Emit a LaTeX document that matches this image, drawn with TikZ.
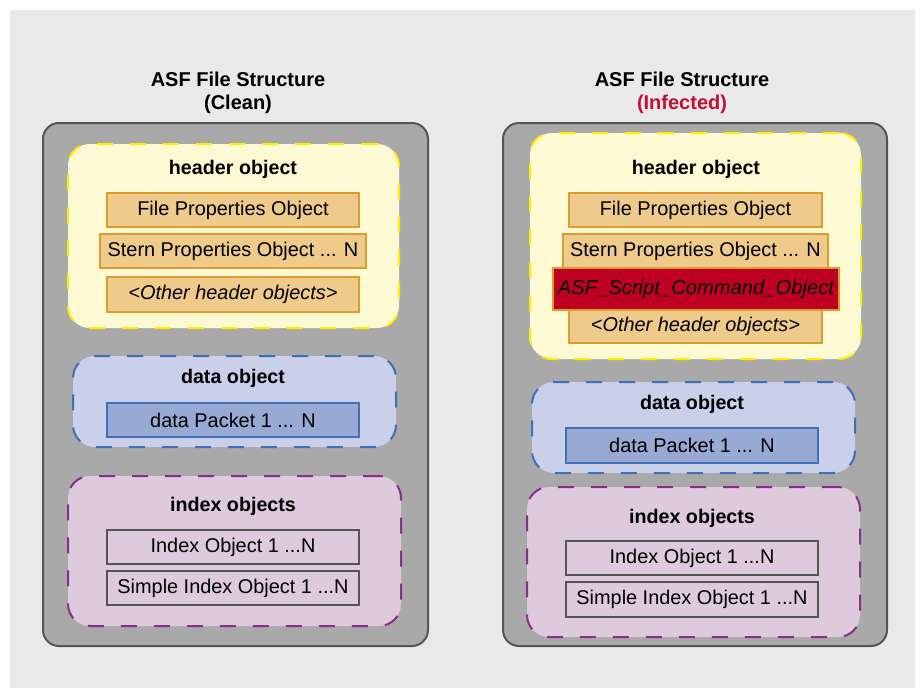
\documentclass[tikz,border=0pt]{standalone}
\usepackage{fontspec}
\setmainfont{Liberation Sans}
\begin{document}
\begin{tikzpicture}[x=1pt,y=-1pt,
  every node/.style={inner sep=0pt, outer sep=0pt, font=\fontsize{19.9}{23}\selectfont},
  outerbox/.style={draw=outerstroke, fill=outerfill, line width=2pt, rounded corners=16pt},
  grp/.style={line width=2pt, rounded corners=22pt, dash pattern=on 16pt off 17pt},
  hdrgrp/.style={grp, draw=hdrstroke, fill=hdrfill},
  datgrp/.style={grp, draw=datstroke, fill=datfill},
  idxgrp/.style={grp, draw=idxstroke, fill=idxfill},
  lbl/.style={font=\fontsize{19.7}{23}\selectfont\bfseries},
  ttl/.style={font=\fontsize{20}{24}\selectfont\bfseries},
  hbox/.style={draw=orstroke, fill=orfill, line width=2pt, minimum height=34pt},
  dbox/.style={draw=datstroke, fill=pktfill, line width=2pt, minimum width=252pt, minimum height=34pt},
  ibox/.style={draw=ixstroke, fill=idxfill, line width=2pt, minimum width=252pt, minimum height=34pt},
  rbox/.style={draw=orstroke, fill=redfill, line width=2pt, font=\fontsize{20.2}{23}\selectfont\itshape}
]
\definecolor{bgfill}{HTML}{E9E9E9}
\definecolor{outerfill}{HTML}{A9A9A9}
\definecolor{outerstroke}{HTML}{555555}
\definecolor{hdrfill}{HTML}{FDF9D2}
\definecolor{hdrstroke}{HTML}{FFEE00}
\definecolor{orfill}{HTML}{EECB8B}
\definecolor{orstroke}{HTML}{DE9B2E}
\definecolor{datfill}{HTML}{CAD0E9}
\definecolor{datstroke}{HTML}{3F6FB8}
\definecolor{pktfill}{HTML}{98A9D4}
\definecolor{idxfill}{HTML}{DDCADD}
\definecolor{idxstroke}{HTML}{8B2D8B}
\definecolor{ixstroke}{HTML}{555555}
\definecolor{redfill}{HTML}{BE0023}
\definecolor{redtxt}{HTML}{C0103A}

\useasboundingbox (0,0) rectangle (922,688);
\fill[white] (0,0) rectangle (922,688);
\fill[bgfill] (10,10) rectangle (915,688);

% ---------- Left: clean ----------
\node[ttl] (tl1) at (238,79) {ASF File Structure};
\node[ttl] (tl2) at (238,104) {(Clean)};
\node[outerbox, minimum width=385pt, minimum height=523pt] (Lout) at (235.5,384.5) {};
\node[hdrgrp, minimum width=331pt, minimum height=184pt] (Lhdr) at (233.5,236) {};
\node[lbl] (Lhdrl) at (233,169) {header object};
\node[hbox, minimum width=252pt] (Lfpo) at (233,210) {File Properties Object};
\node[hbox, minimum width=266pt] (Lspo) at (233,251) {Stern Properties Object ... N};
\node[hbox, minimum width=252pt, minimum height=35pt] (Loth) at (233,294.5) {\itshape <Other header objects>};
\node[datgrp, minimum width=323pt, minimum height=91pt] (Ldat) at (234.5,401.5) {};
\node[lbl] (Ldatl) at (233,378) {data object};
\node[dbox] (Lpkt) at (233,420) {data Packet 1 ... N};
\node[idxgrp, minimum width=333pt, minimum height=150pt] (Lidx) at (234.5,551) {};
\node[lbl] (Lidxl) at (233,506) {index objects};
\node[ibox] (Lio) at (233,547) {Index Object 1 ...N};
\node[ibox] (Lsio) at (233,588) {Simple Index Object 1 ...N};

% ---------- Right: infected ----------
\node[ttl] (tr1) at (682,79) {ASF File Structure};
\node[ttl, text=redtxt] (tr2) at (682,104) {(Infected)};
\node[outerbox, minimum width=384pt, minimum height=523pt] (Rout) at (695,384.5) {};
\node[hdrgrp, minimum width=331pt, minimum height=226pt] (Rhdr) at (695.5,246) {};
\node[lbl] (Rhdrl) at (696,169) {header object};
\node[hbox, minimum width=253pt] (Rfpo) at (695.5,210) {File Properties Object};
\node[hbox, minimum width=265pt] (Rspo) at (695.5,251) {Stern Properties Object ... N};
\node[hbox, minimum width=253pt, minimum height=33pt] (Roth) at (695.5,326.5) {\itshape <Other header objects>};
\node[rbox, minimum width=286pt, minimum height=42pt] (Rasf) at (696,289) {ASF\_Script\_Command\_Object};
\node[datgrp, minimum width=323pt, minimum height=91pt] (Rdat) at (693.5,427.5) {};
\node[lbl] (Rdatl) at (692,404) {data object};
\node[dbox, minimum height=35pt] (Rpkt) at (692,445.5) {data Packet 1 ... N};
\node[idxgrp, minimum width=333pt, minimum height=150pt] (Ridx) at (693.5,562) {};
\node[lbl] (Ridxl) at (692,518) {index objects};
\node[ibox] (Rio) at (692,558) {Index Object 1 ...N};
\node[ibox, minimum height=35pt] (Rsio) at (692,599.5) {Simple Index Object 1 ...N};
\end{tikzpicture}
\end{document}
